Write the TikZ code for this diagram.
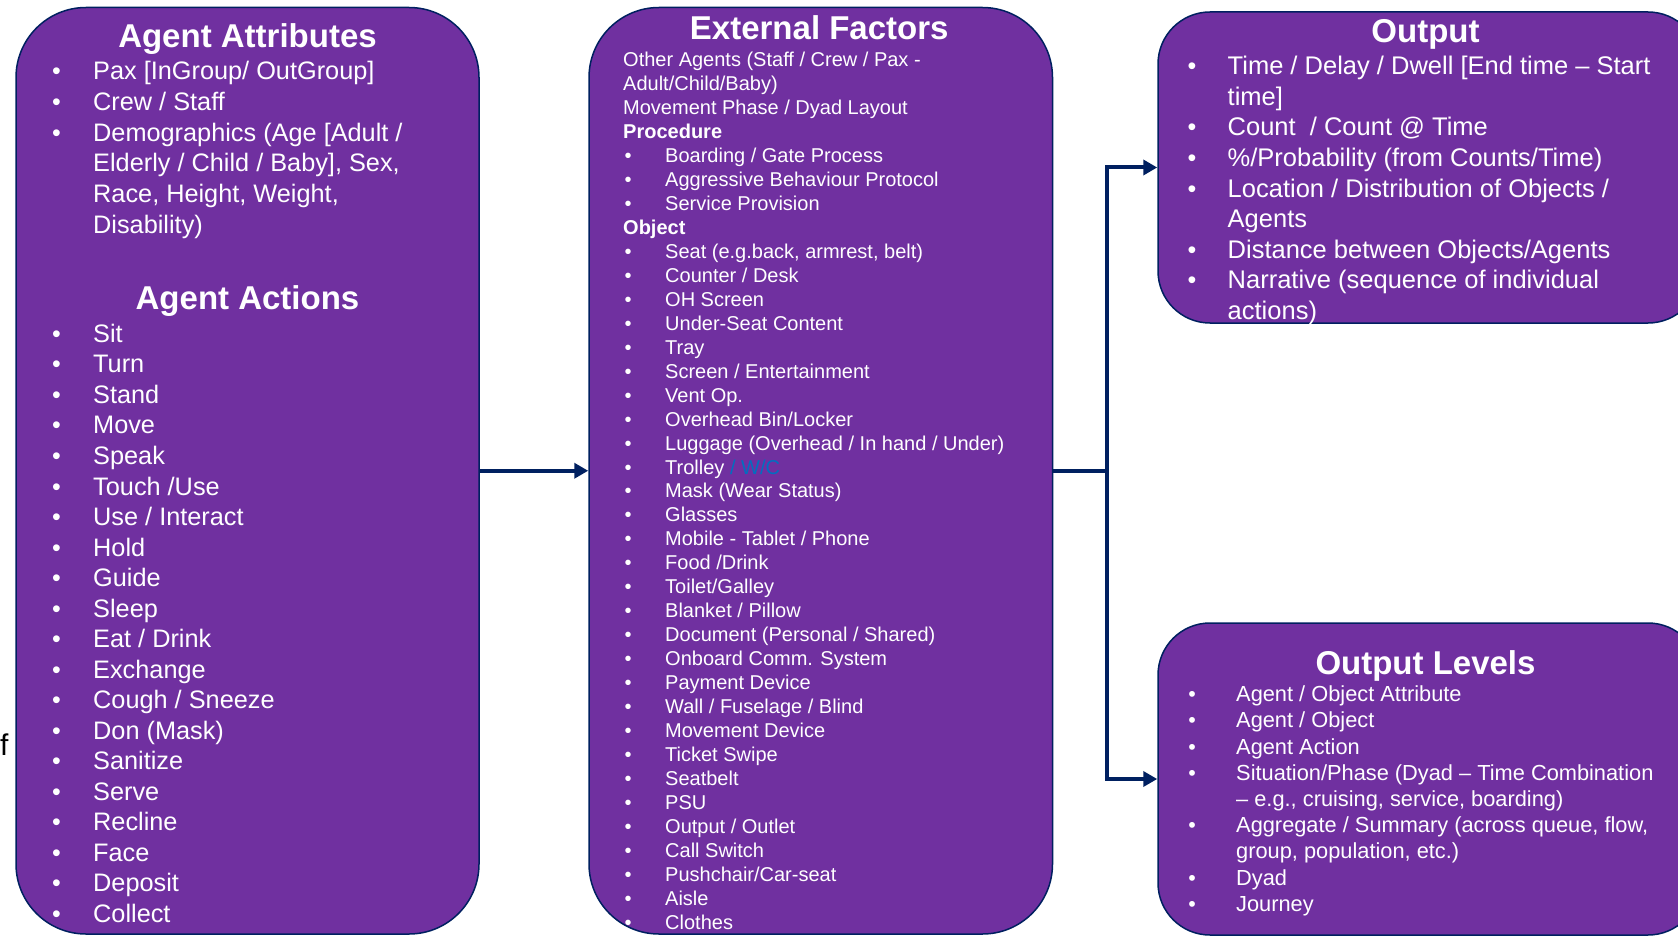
\documentclass[tikz,border=0pt]{standalone}
\usepackage{fontspec}
\setmainfont{Liberation Sans}
\usepackage{xcolor}
\definecolor{panelpurple}{HTML}{7030A0}
\definecolor{navyline}{HTML}{002060}
\definecolor{linkblue}{HTML}{0070C0}
\usetikzlibrary{arrows.meta, positioning, calc}

\begin{document}
\begin{tikzpicture}[
    x=1pt, y=-1pt,
    panel/.style={draw=navyline, line width=1.5pt, fill=panelpurple,
                  rectangle, rounded corners=#1, inner sep=0pt},
    panel/.default=70pt,
    head/.style={text=white, anchor=base, inner sep=0pt,
                 font=\fontsize{33}{39}\selectfont\bfseries},
    big/.style={text=white, anchor=base west, inner sep=0pt,
                font=\fontsize{25.3}{30}\selectfont},
    small/.style={text=white, anchor=base west, inner sep=0pt,
                  font=\fontsize{20}{24}\selectfont},
    mid/.style={text=white, anchor=base west, inner sep=0pt,
                font=\fontsize{21.8}{26}\selectfont},
    dot/.style={text=white, anchor=base, inner sep=0pt},
    flow/.style={draw=navyline, line width=4pt,
                 -{Triangle[length=14pt, width=15pt]}}
  ]
    \clip (0,0) rectangle (1678,936);
    \fill[white] (0,0) rectangle (1678,936);

    % panels
    \node[panel, minimum width=463pt, minimum height=926.5pt] (attr) at (247.5,470.75) {};
    \node[panel, minimum width=463.5pt, minimum height=926.5pt, right=108.5pt of attr] (ext) {};
    \node[panel=52pt, minimum width=542pt, minimum height=311pt] (outtop) at (1429,167.5) {};
    \node[panel=52pt, minimum width=542pt, minimum height=312pt] (outlvl) at (1429,779) {};

    % stray letter at the left edge
    \node[anchor=base west, inner sep=0pt, font=\fontsize{30}{36}\selectfont] (stray) at (0,755) {f};

    % agent attributes / actions
    \node[head] (attrhead) at (247.5,47.5) {Agent Attributes};
    \foreach \txt [count=\k from 0] in {{Pax [InGroup/ OutGroup]}, {Crew / Staff},
        {Demographics (Age [Adult /}, {Elderly / Child / Baby], Sex,},
        {Race, Height, Weight,}, {Disability)}}
      \node[big] (attr-\k) at (93,80+30.6*\k) {\txt};
    \foreach \k in {0,1,2}
      \node[dot, font=\fontsize{25}{30}\selectfont] (attrdot-\k) at (56.5,80+30.6*\k) {\textbullet};

    \node[head] (acthead) at (247.5,309.5) {Agent Actions};
    \foreach \txt [count=\k from 0] in {Sit, Turn, Stand, Move, Speak, {Touch /Use},
        {Use / Interact}, Hold, Guide, Sleep, {Eat / Drink}, Exchange, {Cough / Sneeze},
        {Don (Mask)}, Sanitize, Serve, Recline, Face, Deposit, Collect} {
      \node[big] (act-\k) at (93,342.4+30.53*\k) {\txt};
      \node[dot, font=\fontsize{25}{30}\selectfont] (actdot-\k) at (56.5,342.4+30.53*\k) {\textbullet};
    }

    % external factors
    \node[head] (exthead) at (819.25,40) {External Factors};
    \foreach \txt [count=\k from 0] in {{Other Agents (Staff / Crew / Pax -},
        {Adult/Child/Baby)}, {Movement Phase / Dyad Layout}}
      \node[small] (ext-\k) at (623,66.7+23.96*\k) {\txt};
    \node[small, font=\fontsize{20}{24}\selectfont\bfseries] (proc) at (623,66.7+23.96*3) {Procedure};
    \foreach \txt [count=\k from 4] in {{Boarding / Gate Process},
        {Aggressive Behaviour Protocol}, {Service Provision}} {
      \node[small] (proc-\k) at (665,66.7+23.96*\k) {\txt};
      \node[dot, font=\fontsize{20}{24}\selectfont] (procdot-\k) at (628,66.7+23.96*\k) {\textbullet};
    }
    \node[small, font=\fontsize{20}{24}\selectfont\bfseries] (obj) at (623,66.7+23.96*7) {Object};
    \foreach \txt [count=\k from 8] in {{Seat (e.g.back, armrest, belt)}, {Counter / Desk},
        {OH Screen}, {Under-Seat Content}, Tray, {Screen / Entertainment}, {Vent Op.},
        {Overhead Bin/Locker}, {Luggage (Overhead / In hand / Under)},
        {Trolley \textcolor{linkblue}{/ W/C}}, {Mask (Wear Status)}, Glasses,
        {Mobile - Tablet / Phone}, {Food /Drink}, {Toilet/Galley}, {Blanket / Pillow},
        {Document (Personal / Shared)}, {Onboard Comm. System}, {Payment Device},
        {Wall / Fuselage / Blind}, {Movement Device}, {Ticket Swipe}, Seatbelt, PSU,
        {Output / Outlet}, {Call Switch}, {Pushchair/Car-seat}, Aisle, Clothes} {
      \node[small] (obj-\k) at (665,66.7+23.96*\k) {\txt};
      \node[dot, font=\fontsize{20}{24}\selectfont] (objdot-\k) at (628,66.7+23.96*\k) {\textbullet};
    }

    % output
    \node[head] (outhead) at (1425.5,43) {Output};
    \foreach \txt [count=\k from 0] in {{Time / Delay / Dwell [End time – Start}, {time]},
        {Count~ / Count @ Time}, {\%/Probability (from Counts/Time)},
        {Location / Distribution of Objects /}, Agents, {Distance between Objects/Agents},
        {Narrative (sequence of individual}, {actions)}}
      \node[big, font=\fontsize{25.5}{30}\selectfont] (out-\k) at (1227.5,75+30.5*\k) {\txt};
    \foreach \k in {0,2,3,4,6,7}
      \node[dot, font=\fontsize{25}{30}\selectfont] (outdot-\k) at (1192,75+30.5*\k) {\textbullet};

    % output levels
    \node[head] (lvlhead) at (1425.5,674.5) {Output Levels};
    \foreach \txt [count=\k from 0] in {{Agent / Object Attribute}, {Agent / Object},
        {Agent Action}, {Situation/Phase (Dyad – Time Combination},
        {– e.g., cruising, service, boarding)}, {Aggregate / Summary (across queue, flow,},
        {group, population, etc.)}, Dyad, Journey}
      \node[mid] (lvl-\k) at (1236,701.7+26.2*\k) {\txt};
    \foreach \k in {0,1,2,3,5,7,8}
      \node[dot, font=\fontsize{21.5}{26}\selectfont] (lvldot-\k) at (1192,701.7+26.2*\k) {\textbullet};

    % connectors
    \coordinate (split) at ($(ext.east)+(54,0)$);
    \draw[flow] (attr.east) -- (ext.west);
    \draw[flow] (ext.east) -- (split) |- (outtop.west);
    \draw[flow] (split) |- (outlvl.west);
\end{tikzpicture}
\end{document}
